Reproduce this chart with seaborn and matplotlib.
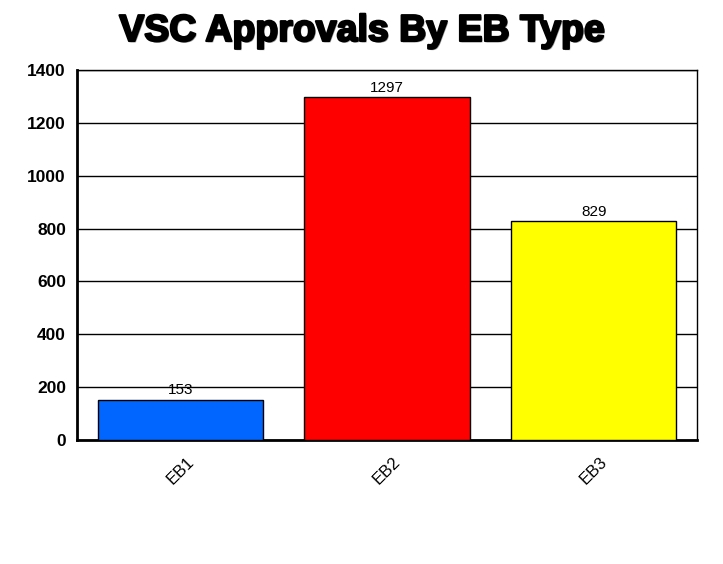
import matplotlib
matplotlib.use("Agg")
import matplotlib.pyplot as plt
import matplotlib.patheffects as pe
import seaborn as sns
import pandas as pd

categories = ["EB1", "EB2", "EB3"]
values = [153, 1297, 829]
colors = ["#0066FF", "#FF0000", "#FFFF00"]
yticks = [0, 200, 400, 600, 800, 1000, 1200, 1400]

sns.set_theme(style="white")
plt.rcParams["font.family"] = ["Liberation Sans", "DejaVu Sans"]
plt.rcParams["text.color"] = "black"
plt.rcParams["xtick.color"] = "black"
plt.rcParams["ytick.color"] = "black"

df = pd.DataFrame({"cat": categories, "val": values})

fig = plt.figure(figsize=(7.23, 5.64), dpi=100)
ax = fig.add_axes([77/723, 1-440/564, (697-77)/723, (440-70)/564])

sns.barplot(data=df, x="cat", y="val", hue="cat", palette=colors, legend=False,
            saturation=1, width=0.8, edgecolor="black", linewidth=1, ax=ax, zorder=3)

ax.set_ylim(0, 1400)
ax.set_xlim(-0.5, 2.5)
ax.set_yticks(yticks)
ax.set_yticklabels([str(t) for t in yticks], fontsize=12.5, fontweight="bold", color="black")
ax.yaxis.grid(True, color="black", linewidth=1, zorder=0)
ax.set_axisbelow(True)
ax.set_xlabel("")
ax.set_ylabel("")
ax.tick_params(axis="x", length=0, pad=10)
ax.tick_params(axis="y", length=0, pad=8)
for lbl in ax.get_xticklabels():
    lbl.set_rotation(45)
    lbl.set_fontsize(12)
    lbl.set_ha("center")
    lbl.set_color("black")

for s in ["top", "right"]:
    ax.spines[s].set_color("black")
    ax.spines[s].set_linewidth(1)
for s in ["left", "bottom"]:
    ax.spines[s].set_color("black")
    ax.spines[s].set_linewidth(2)

for i, v in enumerate(values):
    ax.text(i, v + 8, str(v), ha="center", va="bottom", fontsize=11, color="black")

fig.text(362/723, 1-31/564, "VSC Approvals By EB Type", ha="center", va="center",
         fontsize=27, fontweight="bold", color="black",
         path_effects=[pe.withSimplePatchShadow(offset=(1, -1), shadow_rgbFace="#888888", alpha=0.8),
                       pe.withStroke(linewidth=1.6, foreground="black")])

fig.savefig("out.png", dpi=100, facecolor="white")
